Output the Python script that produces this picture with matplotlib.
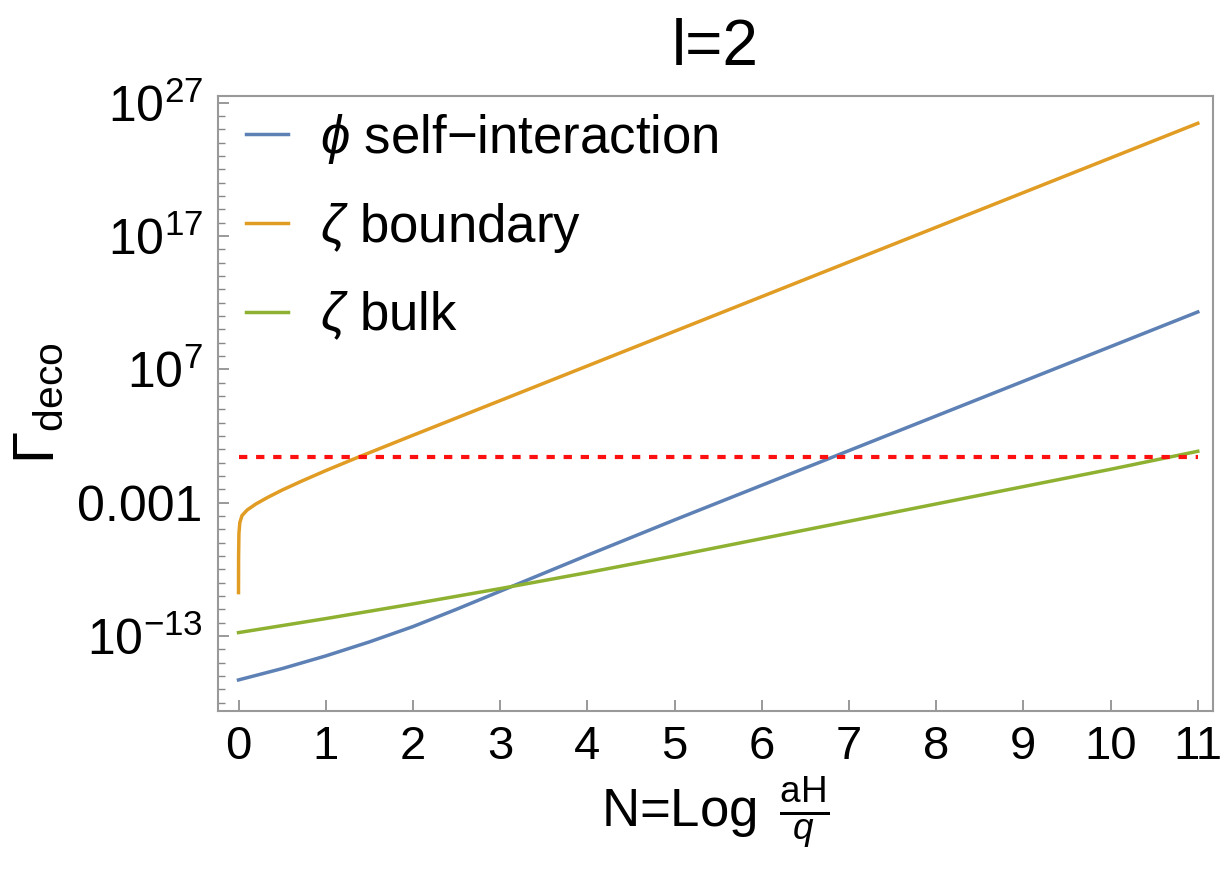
import numpy as np
import matplotlib
matplotlib.use("Agg")
import matplotlib.pyplot as plt

plt.rcParams['font.family'] = ['Liberation Sans', 'DejaVu Sans']
plt.rcParams['mathtext.fontset'] = 'custom'
plt.rcParams['mathtext.rm'] = 'Liberation Sans'
plt.rcParams['mathtext.it'] = 'Liberation Sans:italic'
plt.rcParams['mathtext.bf'] = 'Liberation Sans:bold'

# ====== values (log10 of Gamma_deco) ======
n_phi = [0, 0.5, 1, 1.5, 2, 2.5, 3, 3.5, 4, 5, 6, 7, 8, 9, 10, 11]
log_phi = [-16.3, -15.45, -14.5, -13.45, -12.3, -11.0, -9.65, -8.3, -6.95,
           -4.3, -1.7, 0.9, 3.5, 6.1, 8.7, 11.3]

n_bound = [0, 0.001, 0.005, 0.015, 0.04, 0.1, 0.2, 0.34, 0.5, 0.72, 1.0, 1.37,
           2, 3, 4, 5, 6, 7, 8, 9, 10, 11]
log_bound = [-9.75, -7.0, -5.3, -4.5, -3.97, -3.55, -3.1, -2.59, -2.06, -1.4, -0.6, 0.4,
             2.05, 4.65, 7.25, 9.85, 12.45, 15.05, 17.65, 20.25, 22.85, 25.45]

n_bulk = [0, 1, 2, 3, 4, 5, 6, 7, 8, 9, 10, 11]
log_bulk = [-12.75, -11.7, -10.6, -9.45, -8.25, -7.0, -5.7, -4.4, -3.1, -1.8, -0.5, 0.85]

threshold_log = 0.4
n_range = [0, 11]

ytick_vals = [1e-13, 1e-3, 1e7, 1e17, 1e27]
ytick_labels = [r'$10^{-13}$', '0.001', r'$10^{7}$', r'$10^{17}$', r'$10^{27}$']
xtick_vals = list(range(0, 12))

labels = [r'$\phi$ self−interaction', r'$\zeta$ boundary', r'$\zeta$ bulk']
colors = ['#5E81B5', '#E19C24', '#8FB131']

fig = plt.figure(figsize=(12.2, 8.74), dpi=100)
ax = fig.add_axes([0.1787, 0.1865, 0.8156, 0.7037])

ax.plot(n_phi, 10.0 ** np.array(log_phi), color=colors[0], lw=2.5, label=labels[0])
ax.plot(n_bound, 10.0 ** np.array(log_bound), color=colors[1], lw=2.5, label=labels[1])
ax.plot(n_bulk, 10.0 ** np.array(log_bulk), color=colors[2], lw=2.5, label=labels[2])
ax.plot(n_range, [10.0 ** threshold_log] * 2, color='#FF1010', lw=3, dashes=(2, 2.1))

ax.set_yscale('log')
ax.set_xlim(-0.235, 11.175)
ax.set_ylim(10 ** -18.63, 10 ** 27.5)

ax.set_xticks(xtick_vals)
ax.set_yticks(ytick_vals)
ax.set_yticklabels(ytick_labels)
ax.set_yticks(10.0 ** np.arange(-18, 28), minor=True)
ax.yaxis.set_minor_formatter(matplotlib.ticker.NullFormatter())
ax.xaxis.set_minor_locator(matplotlib.ticker.NullLocator())

ax.tick_params(axis='both', which='both', direction='in', color='#888888',
               top=False, right=False)
ax.tick_params(axis='both', which='major', length=8, width=1.2)
ax.tick_params(axis='y', which='minor', length=5, width=1.0)
ax.tick_params(axis='x', which='major', labelsize=34, pad=10)
ax.tick_params(axis='y', which='major', labelsize=36, pad=11)

for sp in ax.spines.values():
    sp.set_color('#999999')
    sp.set_linewidth(1.5)

ax.set_title('l=2', fontsize=46, pad=22)
ax.set_xlabel(r'N=Log $\,\frac{\mathrm{aH}}{q}$', fontsize=38, labelpad=4)
ax.set_ylabel(r'$\Gamma_{\mathrm{deco}}$', fontsize=42, labelpad=8)

leg = ax.legend(loc='upper left', bbox_to_anchor=(0.012, 1.0), frameon=False,
                fontsize=38, handlelength=0.8, handletextpad=0.6,
                labelspacing=0.66, borderpad=0.1, borderaxespad=0.2)

fig.savefig('out.png', dpi=100)
